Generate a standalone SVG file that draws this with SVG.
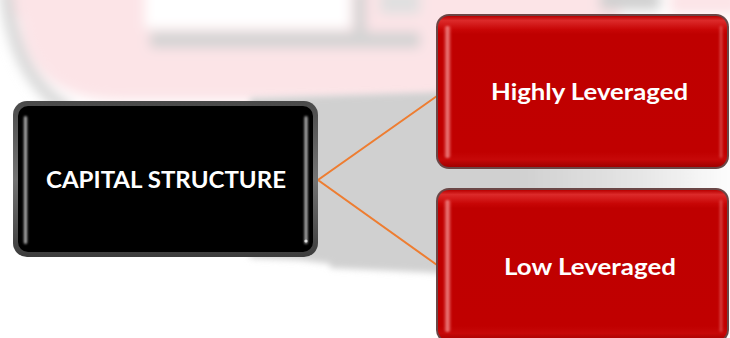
<svg xmlns="http://www.w3.org/2000/svg" width="730" height="338" viewBox="0 0 730 338">
  <defs>
    <filter id="soft" x="-20%" y="-20%" width="140%" height="140%">
      <feGaussianBlur stdDeviation="6"/>
    </filter>
    <filter id="softer" x="-20%" y="-20%" width="140%" height="140%">
      <feGaussianBlur stdDeviation="3"/>
    </filter>
    <filter id="hl" x="-50%" y="-10%" width="200%" height="120%">
      <feGaussianBlur stdDeviation="0.8"/>
    </filter>
    <linearGradient id="redFill" x1="0" y1="0" x2="0" y2="1">
      <stop offset="0" stop-color="#b80000"/>
      <stop offset="0.03" stop-color="#dc2a2a"/>
      <stop offset="0.09" stop-color="#c80606"/>
      <stop offset="0.12" stop-color="#bf0000"/>
      <stop offset="0.9" stop-color="#c00000"/>
      <stop offset="0.95" stop-color="#c60808"/>
      <stop offset="1" stop-color="#a00000"/>
    </linearGradient>
    <linearGradient id="redHl" x1="0" y1="0" x2="1" y2="0">
      <stop offset="0" stop-color="#f08080" stop-opacity="0.2"/>
      <stop offset="0.5" stop-color="#f49090" stop-opacity="0.9"/>
      <stop offset="1" stop-color="#f08080" stop-opacity="0.2"/>
    </linearGradient>
    <linearGradient id="blackRim" x1="0" y1="0" x2="0" y2="1">
      <stop offset="0" stop-color="#4a4a4a"/>
      <stop offset="0.5" stop-color="#737373"/>
      <stop offset="1" stop-color="#3c3c3c"/>
    </linearGradient>
    <linearGradient id="blackHl" x1="0" y1="0" x2="1" y2="0">
      <stop offset="0" stop-color="#555"/>
      <stop offset="0.5" stop-color="#b8b8b8"/>
      <stop offset="1" stop-color="#555"/>
    </linearGradient>
    <linearGradient id="grayFade" x1="0" y1="0" x2="1" y2="0">
      <stop offset="0" stop-color="#d0d0d0"/>
      <stop offset="0.55" stop-color="#d0d0d0"/>
      <stop offset="0.8" stop-color="#e6e6e6"/>
      <stop offset="1" stop-color="#ffffff"/>
    </linearGradient>
    <style>
      .lbl { font-family: Lato, "Liberation Sans", sans-serif; font-weight: 700; fill: #ffffff; text-anchor: middle; }
      .red-rim { fill: #6a4646; }
      .red-body { fill: url(#redFill); }
      .red-hl { fill: url(#redHl); filter: url(#hl); }
      .blk-rim { fill: url(#blackRim); }
      .blk-body { fill: #000000; }
      .blk-hl { fill: url(#blackHl); filter: url(#hl); }
      .link { stroke: #ee7d31; stroke-width: 2; fill: none; }
    </style>
  </defs>

  <!-- faded background emblem -->
  <g id="backdrop">
    <rect width="730" height="338" fill="#ffffff"/>
    <g filter="url(#soft)">
      <path d="M -20 -40 L 620 -40 L 620 100 L 120 100 Q 30 100 20 20 Z" fill="#fce4e7"/>
      <path d="M 145 -20 L 350 -20 L 350 28 L 145 28 Z" fill="#ffffff"/>
      <path d="M 150 40 L 420 40" stroke="#d3d3d3" stroke-width="16"/>
      <path d="M 360 -10 L 360 35" stroke="#d3d3d3" stroke-width="12"/>
      <path d="M 6 -10 Q 14 80 70 110" stroke="#d6d6d6" stroke-width="12" fill="none"/>
      <path d="M 600 -10 L 660 -10 L 660 10 L 600 10 Z" fill="#d0d0d0"/>
      <path d="M 670 -10 L 740 -10 L 740 14 L 670 14 Z" fill="#fce4e7"/>
      <path d="M 380 -10 L 420 -10 L 420 14 L 380 14 Z" fill="#e0e0e0"/>
    </g>
    <g filter="url(#softer)">
      <path d="M 250 98 L 440 92 L 740 92 L 740 275 L 440 273 Q 360 268 300 260 L 250 258 Z" fill="url(#grayFade)"/>
      <path d="M 330 100 L 440 92 L 440 273 L 330 268 Z" fill="#d0d0d0"/>
    </g>
  </g>

  <!-- connectors -->
  <g id="connectors">
    <polyline class="link" points="437,96 318,180 437,265"/>
  </g>

  <g id="capital-structure">
    <rect class="blk-rim" x="13" y="101" width="305" height="156" rx="14"/>
    <rect class="blk-body" x="18" y="106" width="295" height="146" rx="10"/>
    <rect class="blk-hl" x="23.5" y="116" width="4" height="128" rx="2"/>
    <rect class="blk-hl" x="304" y="116" width="4" height="128" rx="2"/>
    <circle cx="306" cy="241" r="1.6" fill="#e0e0e0"/>
    <text class="lbl" x="166" y="188" font-size="22" textLength="240" lengthAdjust="spacingAndGlyphs">CAPITAL STRUCTURE</text>
  </g>

  <g id="highly-leveraged">
    <rect class="red-rim" x="436" y="14" width="293" height="155" rx="13"/>
    <rect class="red-body" x="438" y="16" width="289" height="151" rx="11"/>
    <rect class="red-hl" x="444" y="26" width="7" height="132" rx="3"/>
    <rect class="red-hl" x="719" y="26" width="4" height="132" rx="2" opacity="0.6"/>
    <text class="lbl" x="589.5" y="100" font-size="23" textLength="197" lengthAdjust="spacingAndGlyphs">Highly Leveraged</text>
  </g>

  <g id="low-leveraged">
    <rect class="red-rim" x="436" y="188" width="293" height="155" rx="13"/>
    <rect class="red-body" x="438" y="190" width="289" height="151" rx="11"/>
    <rect class="red-hl" x="444" y="200" width="7" height="132" rx="3"/>
    <rect class="red-hl" x="719" y="200" width="4" height="132" rx="2" opacity="0.6"/>
    <text class="lbl" x="590" y="275" font-size="23" textLength="172" lengthAdjust="spacingAndGlyphs">Low Leveraged</text>
  </g>
</svg>
